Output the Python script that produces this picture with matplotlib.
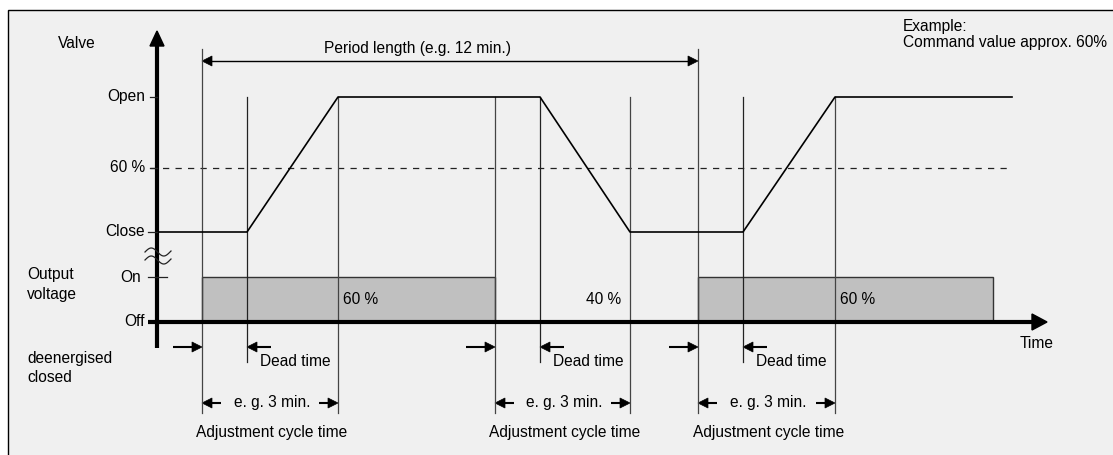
import matplotlib.pyplot as plt
import numpy as np
from matplotlib.patches import Rectangle, Polygon

plt.rcParams['font.family'] = ['Liberation Sans', 'DejaVu Sans']

# levels (vertical positions on the drawing)
lvl_open = 97
lvl_60 = 168
lvl_close = 232
lvl_on = 277
lvl_off = 322

# valve position over time
valve_t = [157, 247, 338, 540, 630, 743, 835, 1012]
valve_y = [lvl_close, lvl_close, lvl_open, lvl_open, lvl_close, lvl_close, lvl_open, lvl_open]

# output voltage pulses (start, end)
pulse_start = [202, 698]
pulse_end = [495, 993]

# cycle events
switch_t = [202, 495, 698]      # output switches
dead_end_t = [247, 540, 743]    # end of dead time
cycle_end_t = [338, 630, 835]   # end of adjustment cycle

duty_labels = ['60 %', '40 %', '60 %']
duty_x = [343, 621, 840]
duty_ha = ['left', 'right', 'left']

period = [202, 698]

y_labels = ['Open', '60 %', 'Close', 'On', 'Off']
y_label_pos = [lvl_open, lvl_60, lvl_close, lvl_on, lvl_off]

fig = plt.figure(figsize=(11.13, 4.55), dpi=100)
ax = fig.add_axes([0, 0, 1, 1])
ax.set_xlim(0, 1113)
ax.set_ylim(455, 0)
ax.axis('off')

ax.add_patch(Rectangle((7.5, 9.5), 1300, 600, fc='#f0f0f0', ec='black', lw=1.0))

fs = 11.2
lc = '#222222'
thin = 0.9


def arrow(x0, x1, y, hl=10, hw=5, lw=1.5):
    d = np.sign(x1 - x0)
    ax.plot([x0, x1 - d * hl], [y, y], color='black', lw=lw, solid_capstyle='butt')
    ax.add_patch(Polygon([[x1, y], [x1 - d * hl, y - hw], [x1 - d * hl, y + hw]],
                         closed=True, fc='black', ec='black', lw=0.5))


# output pulses
for s, e in zip(pulse_start, pulse_end):
    ax.add_patch(Rectangle((s, lvl_on), e - s, lvl_off - lvl_on, fc='#c0c0c0', ec='#333333', lw=1.0))

# dashed 60 % line
ax.plot([150, 1010], [lvl_60, lvl_60], color=lc, lw=thin, ls=(0, (5, 5)))

# vertical guide lines
for t in switch_t:
    top = 49 if t in period else lvl_open
    ax.plot([t, t], [top, 413], color='#444444', lw=thin)
for t in dead_end_t:
    ax.plot([t, t], [lvl_open, 362], color=lc, lw=thin)
for t in cycle_end_t:
    ax.plot([t, t], [lvl_open, 413], color='#444444', lw=thin)

# valve curve
ax.plot(valve_t, valve_y, color='black', lw=1.2)

# axes
ax.plot([157, 157], [348, 44], color='black', lw=3, solid_capstyle='butt')
ax.add_patch(Polygon([[150, 46], [164, 46], [157, 31]], closed=True, fc='black', ec='black'))
ax.plot([148, 1034], [lvl_off, lvl_off], color='black', lw=3, solid_capstyle='butt')
ax.add_patch(Polygon([[1032, 314], [1032, 330], [1047, lvl_off]], closed=True, fc='black', ec='black'))

# ticks
ax.plot([150, 157], [lvl_open, lvl_open], color=lc, lw=thin)
ax.plot([150, 157], [lvl_60, lvl_60], color=lc, lw=thin)
ax.plot([148, 157], [lvl_close, lvl_close], color=lc, lw=thin)
ax.plot([148, 167], [lvl_on, lvl_on], color=lc, lw=thin)

# axis break squiggle
xs = np.linspace(145, 171, 60)
for yc in [252, 260]:
    ax.plot(xs, yc - 4 * np.sin(2 * np.pi * (xs - 145) / 25), color=lc, lw=thin)

# y labels
for lab, y in zip(y_labels, y_label_pos):
    ax.text(145 if lab != 'On' else 141, y, lab, ha='right', va='center', fontsize=fs)
ax.text(58, 43, 'Valve', ha='left', va='center', fontsize=fs)
ax.text(27, 275, 'Output', ha='left', va='center', fontsize=fs)
ax.text(27, 294, 'voltage', ha='left', va='center', fontsize=fs)
ax.text(27, 359, 'deenergised', ha='left', va='center', fontsize=fs)
ax.text(27, 378, 'closed', ha='left', va='center', fontsize=fs)
ax.text(1020, 343, 'Time', ha='left', va='center', fontsize=fs)
ax.text(903, 26, 'Example:', ha='left', va='center', fontsize=fs)
ax.text(903, 42, 'Command value approx. 60%', ha='left', va='center', fontsize=fs)

# period length
ax.plot([period[0] + 9, period[1] - 9], [61, 61], color='black', lw=1.0)
for x, d in [(period[0], 1), (period[1], -1)]:
    ax.add_patch(Polygon([[x, 61], [x + d * 10, 56], [x + d * 10, 66]], closed=True, fc='black', ec='black', lw=0.5))
ax.text(418, 49, 'Period length (e.g. 12 min.)', ha='center', va='center', fontsize=fs)

# duty labels
for lab, x, ha in zip(duty_labels, duty_x, duty_ha):
    ax.text(x, 300, lab, ha=ha, va='center', fontsize=fs)

# dead time and cycle arrows
for s, d, c in zip(switch_t, dead_end_t, cycle_end_t):
    arrow(s - 29, s, 347)
    arrow(d + 24, d, 347)
    ax.text(d + 13, 362, 'Dead time', ha='left', va='center', fontsize=fs)
    arrow(s + 19, s, 403)
    arrow(c - 19, c, 403)
    ax.text((s + c) / 2 + 2, 402, 'e. g. 3 min.', ha='center', va='center', fontsize=fs)
    ax.text((s + c) / 2 + 2, 432, 'Adjustment cycle time', ha='center', va='center', fontsize=fs)

fig.savefig('out.png', dpi=100)
